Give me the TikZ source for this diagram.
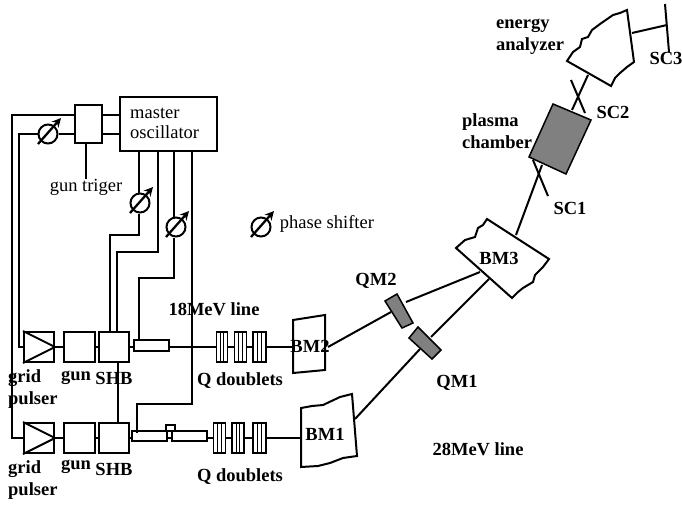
\documentclass[tikz,border=0pt]{standalone}
\usepackage{fontspec}
\setmainfont{Liberation Serif}
\usepackage{xcolor}
\usetikzlibrary{arrows.meta, positioning, calc}
\definecolor{cMAG}{HTML}{808080}
\tikzset{
  wire/.style={line width=2pt},
  thinwire/.style={line width=0.9pt},
  box/.style={draw, line width=2pt, inner sep=0pt, minimum width=#1, minimum height=30pt},
  qbox/.style={draw, line width=1.7pt, inner sep=0pt, minimum width=#1, minimum height=30pt},
  txt/.style={font=\fontsize{18.5}{20}\selectfont, inner sep=0pt, align=left},
  btxt/.style={font=\fontsize{18.5}{22}\selectfont\bfseries, inner sep=0pt, align=left},
  shifter/.style={draw, circle, line width=2pt, inner sep=0pt, minimum size=19pt},
  shiftarrow/.style={line width=2.3pt, -{Stealth[length=9pt, width=9pt]}}
}
\newcommand{\phaseshift}[2]{
  \node[shifter] (#1) at (#2) {};
  \draw[shiftarrow] ([shift={(-10pt,-10pt)}]#1.center) -- ([shift={(13pt,16pt)}]#1.center);
}
\begin{document}
\begin{tikzpicture}[x=1pt, y=-1pt]
  \useasboundingbox (0,0) rectangle (682,506);

  % Oscillator and gun trigger
  \node[box=97pt, minimum height=54pt] (osc) at (168.5,124) {};
  \node[txt, anchor=west] (oscText) at (130,123) {master\\oscillator};
  \node[box=27pt, minimum height=38pt] (trig) at (88.5,124) {};
  \node[txt] (trigText) at (86,187) {gun triger};
  \coordinate (trigEnd) at (86,179);
  \draw[wire] (trig.south -| trigEnd) -- (trigEnd);

  % Phase shifters
  \phaseshift{psA}{48,134}
  \phaseshift{psB}{140,203}
  \phaseshift{psC}{176,227}
  \phaseshift{psD}{261,227}
  \node[txt] (psText) at (327,224) {phase shifter};

  % 18 MeV line
  \node[box=30pt] (pulserA) at (39,347) {};
  \node[box=31pt] (gunA) at (79.5,347) {};
  \node[box=30pt] (shbA) at (114,347) {};
  \node[box=35pt, minimum height=11pt] (tubeA) at (151.5,345.5) {};
  \draw[wire] (pulserA.north west) -- (pulserA.east) -- (pulserA.south west);
  \foreach \name/\xx/\ww in {qA1/222/11, qA2/240.5/12, qA3/259.5/13} {
    \node[qbox=\ww pt] (\name) at (\xx,347) {};
    \draw[thinwire] ([xshift=-1.8pt]\name.north) -- ([xshift=-1.8pt]\name.south);
    \draw[thinwire] ([xshift=1.8pt]\name.north) -- ([xshift=1.8pt]\name.south);
  }

  % 28 MeV line
  \node[box=30pt] (pulserB) at (39,438) {};
  \node[box=31pt] (gunB) at (79.5,438) {};
  \node[box=30pt] (shbB) at (114,438) {};
  \node[box=35pt, minimum height=10pt] (tubeB) at (149.5,436) {};
  \node[box=35pt, minimum height=10pt] (tubeC) at (189.5,436) {};
  \node[box=9pt, minimum height=6pt] (tubeTop) at (170.5,428) {};
  \draw[wire] (pulserB.north west) -- (pulserB.east) -- (pulserB.south west);
  \foreach \name/\xx/\ww in {qB1/219.5/12, qB2/238/12, qB3/259.5/13} {
    \node[qbox=\ww pt] (\name) at (\xx,438) {};
    \draw[thinwire] ([xshift=-1.8pt]\name.north) -- ([xshift=-1.8pt]\name.south);
    \draw[thinwire] ([xshift=1.8pt]\name.north) -- ([xshift=1.8pt]\name.south);
  }

  % Bending magnets
  \draw[wire] (293,320) -- (325,315) -- (325,370) -- (293,373) -- cycle;
  \draw[wire] (301,408) -- (312,406) -- (323,405) -- (340,397) -- (352,394) -- (357,456)
    -- (343,458) -- (330,463) -- (318,466) -- (301,467) -- cycle;
  \draw[wire] (456,248) -- (465,240) -- (475,237) -- (478,228) -- (483,225) -- (487,219)
    -- (549,259) -- (543,267) -- (535,275) -- (533,282) -- (523,288) -- (518,292) -- (512,298) -- cycle;
  \coordinate (bmTwoIn) at (293,347);
  \coordinate (bmTwoOut) at (328,347);
  \coordinate (bmOneIn) at (301,438);
  \coordinate (bmOneOut) at (355,419);
  \coordinate (bmThreeA) at (480,272);
  \coordinate (bmThreeB) at (489,279);
  \coordinate (bmThreeOut) at (516,235);

  % Quadrupoles and plasma chamber
  \draw[line width=1.5pt, fill=cMAG] (385,301) -- (397,294) -- (413,323) -- (402,328) -- cycle;
  \draw[line width=1.5pt, fill=cMAG] (409,338) -- (418,327) -- (441,350) -- (432,359) -- cycle;
  \coordinate (chamberIn) at (542,165);
  \coordinate (chamberOut) at (572,110);
  \coordinate (analyzerIn) at (588,75);

  % Timing lines down to the two beam lines
  \draw[wire] (trig.west |- 0,115) -- (12,115) -- (12,438) -- (pulserB.west);
  \draw[wire] (trig.east |- 0,115) -- (osc.west |- 0,115);
  \draw[wire] (psA.west) -- (19,134) -- (19,347) -- (pulserA.west);
  \draw[wire] (psA.east) -- (trig.west |- 0,134);
  \draw[wire] (trig.east |- 0,134) -- (osc.west |- 0,134);
  \draw[wire] (139,151) -- (psB.north -| 139,0);
  \draw[wire] (psB.south -| 139,0) -- (139,235) -- (110,235) -- (shbA.north -| 110,0);
  \draw[wire] (158,151) -- (158,252) -- (117,252) -- (shbA.north -| 117,0);
  \draw[wire] (174,151) -- (psC.north -| 174,0);
  \draw[wire] (psC.south -| 174,0) -- (174,278) -- (139,278) -- (tubeA.north -| 139,0);
  \draw[wire] (192,151) -- (192,404) -- (137,404) -- (137,433);
  \draw[wire] (shbA.south -| 118,0) -- (shbB.north -| 118,0);

  % Beam path
  \foreach \from/\to in {pulserA/gunA, gunA/shbA, pulserB/gunB, gunB/shbB} {
    \draw[wire] (\from) -- (\to);
  }
  \draw[wire] (shbA.east) -- (tubeA.west |- shbA.east);
  \draw[wire] (tubeA.east |- shbA.east) -- (qA1.west);
  \draw[wire] (qA1) -- (qA2);
  \draw[wire] (qA2) -- (qA3);
  \draw[wire] (qA3) -- (bmTwoIn);
  \draw[wire] (shbB.east) -- (tubeB.west |- shbB.east);
  \draw[wire] (tubeB.east |- shbB.east) -- (tubeC.west |- shbB.east);
  \draw[wire] (tubeC.east |- shbB.east) -- (qB1.west);
  \draw[wire] (qB1) -- (qB2);
  \draw[wire] (qB2) -- (qB3);
  \draw[wire] (qB3) -- (bmOneIn);

  % Lines through the quadrupoles
  \draw[wire] (bmTwoOut) -- (391,312);
  \draw[wire] (406,302) -- (bmThreeA);
  \draw[wire] (bmOneOut) -- (420,349);
  \draw[wire] (431,337) -- (bmThreeB);

  % Chamber, analyzer, screens
  \draw[wire] (bmThreeOut) -- (chamberIn);
  \draw[wire] (chamberOut) -- (analyzerIn);
  \draw[line width=1.5pt, fill=cMAG] (553,104) -- (591,120) -- (566,174) -- (529,157) -- cycle;
  \draw[wire] (533,160) -- (548,196);
  \draw[wire] (571,80) -- (585,113);
  \draw[wire] (567,61) -- (573,52) -- (580,47) -- (582,39) -- (588,37) -- (592,30) -- (600,24)
    -- (613,15) -- (620,13) -- (627,10) -- (634,62) -- (627,67) -- (620,73) -- (615,78) -- (611,86) -- cycle;
  \draw[wire] (632,33) -- (667,25);
  \draw[wire] (665,4) -- (669,52);

  % Labels
  \node[btxt, anchor=west] (gridA) at (8,389) {grid\\pulser};
  \node[btxt, anchor=west] (gridB) at (8,480) {grid\\pulser};
  \node[btxt] (gunAText) at (76,378) {gun};
  \node[btxt] (gunBText) at (76,467) {gun};
  \node[btxt] (shbAText) at (114,378) {SHB};
  \node[btxt] (shbBText) at (114,469) {SHB};
  \node[btxt] (lineA) at (214,309) {18MeV line};
  \node[btxt] (lineB) at (478,449) {28MeV line};
  \node[btxt] (qAText) at (240,381) {Q doublets};
  \node[btxt] (qBText) at (240,477) {Q doublets};
  \node[btxt] (bmTwoText) at (310,346) {BM2};
  \node[btxt] (bmOneText) at (325,434) {BM1};
  \node[btxt] (bmThreeText) at (499,258) {BM3};
  \node[btxt] (qmTwoText) at (376,281) {QM2};
  \node[btxt] (qmOneText) at (457,383) {QM1};
  \node[btxt] (scOneText) at (570,208) {SC1};
  \node[btxt] (scTwoText) at (613,112) {SC2};
  \node[btxt] (scThreeText) at (666,58) {SC3};
  \node[btxt, anchor=west] (chamberText) at (462,131) {plasma\\chamber};
  \node[btxt, anchor=west] (analyzerText) at (496,37) {energy\\analyzer};
\end{tikzpicture}
\end{document}
